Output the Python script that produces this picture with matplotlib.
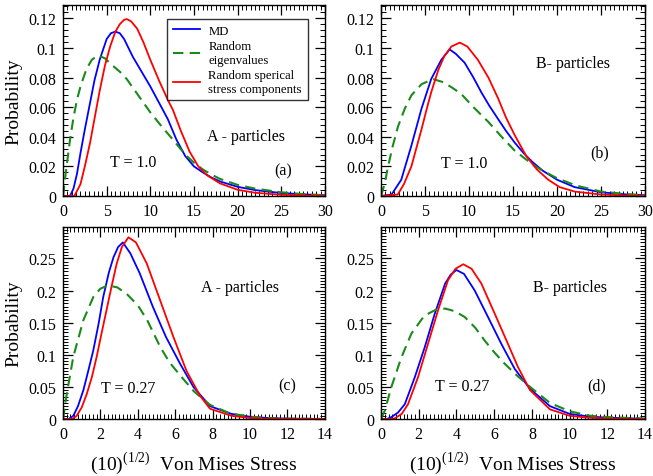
import matplotlib
matplotlib.use('Agg')
import matplotlib.pyplot as plt
from matplotlib.ticker import MultipleLocator

plt.rcParams['font.family'] = ['Liberation Serif', 'DejaVu Serif']
plt.rcParams['mathtext.fontset'] = 'custom'
plt.rcParams['mathtext.rm'] = 'Liberation Serif'

BLUE = '#0000ff'
GREEN = '#1a8a1a'
RED = '#ff0000'

# ---- (a) A particles, T = 1.0 ----
md_a_x = [0, 0.8, 1.2, 1.6, 2.0, 2.5, 3.1, 3.6, 4.2, 5.0, 5.5, 6.0, 6.5, 7.0, 8.0, 9.0, 10.0, 11.0,
          12.0, 13.0, 14.0, 15.0, 16.0, 17.0, 18.0, 20.0, 22.0, 25.0, 28.0, 30.0]
md_a_y = [0, 0, 0.005, 0.015, 0.029, 0.045, 0.063, 0.078, 0.092, 0.106, 0.110, 0.111, 0.110, 0.106,
          0.094, 0.084, 0.074, 0.063, 0.052, 0.038, 0.027, 0.020, 0.016, 0.0125, 0.0098, 0.0062,
          0.004, 0.002, 0.001, 0.0005]
eig_a_x = [0, 0.3, 0.8, 1.2, 1.6, 2.0, 2.7, 3.3, 4.0, 4.8, 5.5, 6.5, 7.3, 8.5, 10, 11.3, 12.6, 14,
           15, 16, 17, 18, 20, 22, 25, 28, 30]
eig_a_y = [0, 0.015, 0.038, 0.053, 0.065, 0.074, 0.086, 0.092, 0.095, 0.093, 0.089, 0.084, 0.079,
           0.069, 0.0565, 0.047, 0.038, 0.028, 0.0225, 0.018, 0.0145, 0.0115, 0.0075, 0.005, 0.0025,
           0.001, 0.0006]
sph_a_x = [0, 1.3, 2.0, 2.5, 3.1, 3.6, 4.2, 4.8, 5.4, 6.0, 6.5, 7.0, 7.3, 7.8, 8.5, 9.2, 10, 11, 12,
           12.6, 13.5, 14.5, 15.5, 16.5, 18, 20, 22, 25, 28, 30]
sph_a_y = [0, 0, 0.008, 0.020, 0.036, 0.052, 0.071, 0.088, 0.101, 0.111, 0.116, 0.119, 0.1195, 0.118,
           0.113, 0.104, 0.092, 0.078, 0.065, 0.058, 0.044, 0.030, 0.020, 0.014, 0.0085, 0.0042,
           0.0022, 0.0008, 0.0003, 0.0001]

# ---- (b) B particles, T = 1.0 ----
md_b_x = [0, 1.2, 2.3, 3.45, 4.6, 5.7, 6.85, 7.8, 8.5, 9.5, 10.5, 11.4, 12.3, 13.3, 14.2, 15.2, 16.2,
          17.2, 18.4, 20, 22, 25, 28, 30]
md_b_y = [0, 0.001, 0.011, 0.034, 0.059, 0.079, 0.092, 0.099, 0.096, 0.090, 0.080, 0.070, 0.061,
          0.052, 0.044, 0.036, 0.029, 0.023, 0.017, 0.011, 0.006, 0.0025, 0.001, 0.0005]
eig_b_x = [0, 0.4, 0.8, 1.3, 1.93, 2.7, 3.45, 4.6, 5.9, 7.0, 8.0, 9.1, 10.5, 12.2, 13.7, 15.2, 16.2,
           17.3, 18.4, 20, 22.2, 25, 28, 30]
eig_b_y = [0, 0.008, 0.020, 0.033, 0.047, 0.059, 0.068, 0.0755, 0.079, 0.077, 0.0735, 0.069, 0.060,
           0.050, 0.040, 0.0306, 0.026, 0.021, 0.017, 0.012, 0.007, 0.003, 0.0012, 0.0006]
sph_b_x = [0, 1.9, 2.6, 3.45, 4.0, 4.6, 5.2, 5.7, 6.5, 7.2, 8.0, 8.95, 9.8, 11.0, 12.2, 13.3, 14.2,
           15.2, 16.5, 17.7, 19, 20.3, 22, 25, 28, 30]
sph_b_y = [0, 0.001, 0.008, 0.020, 0.032, 0.045, 0.059, 0.070, 0.085, 0.0946, 0.101, 0.1036, 0.101,
           0.092, 0.080, 0.066, 0.053, 0.041, 0.027, 0.018, 0.011, 0.006, 0.003, 0.001, 0.0003, 0.0001]

# ---- (c) A particles, T = 0.27 ----
md_c_x = [0, 0.3, 0.55, 0.8, 1.09, 1.35, 1.62, 1.9, 2.15, 2.45, 2.7, 2.95, 3.2, 3.6, 4.1, 4.8, 5.5,
          6.26, 6.97, 7.86, 9, 10, 11, 12, 14]
md_c_y = [0, 0, 0.005, 0.02, 0.045, 0.075, 0.107, 0.148, 0.19, 0.228, 0.252, 0.268, 0.275, 0.258,
          0.227, 0.175, 0.128, 0.086, 0.050, 0.020, 0.008, 0.0035, 0.0015, 0.0005, 0.0001]
eig_c_x = [0, 0.2, 0.55, 1.09, 1.62, 2.0, 2.4, 2.9, 3.4, 4.0, 4.5, 5.2, 5.7, 6.26, 7.0, 7.86, 8.9, 10,
           11, 12, 14]
eig_c_y = [0, 0.039, 0.097, 0.154, 0.19, 0.203, 0.208, 0.205, 0.195, 0.177, 0.154, 0.112, 0.088,
           0.068, 0.043, 0.022, 0.009, 0.0035, 0.0015, 0.0006, 0.0001]
sph_c_x = [0, 0.5, 0.73, 1.0, 1.27, 1.55, 1.8, 2.05, 2.33, 2.6, 2.87, 3.15, 3.5, 3.9, 4.48, 5.19, 5.9,
           6.6, 7.33, 7.86, 9, 10, 11, 14]
sph_c_y = [0, 0, 0.005, 0.018, 0.039, 0.066, 0.097, 0.132, 0.17, 0.207, 0.242, 0.268, 0.283, 0.275,
           0.242, 0.185, 0.128, 0.075, 0.036, 0.016, 0.005, 0.0015, 0.0005, 0.0001]

# ---- (d) B particles, T = 0.27 ----
md_d_x = [0, 0.3, 0.55, 0.9, 1.26, 1.79, 2.32, 2.85, 3.4, 3.7, 4.0, 4.4, 4.97, 5.67, 6.38, 7.09, 7.9,
          8.96, 10, 11, 12, 14]
md_d_y = [0, 0, 0.003, 0.01, 0.023, 0.065, 0.112, 0.164, 0.211, 0.225, 0.232, 0.226, 0.2, 0.159,
          0.117, 0.078, 0.047, 0.020, 0.008, 0.004, 0.002, 0.0003]
eig_d_x = [0, 0.2, 0.55, 1.08, 1.61, 2.3, 2.9, 3.4, 3.9, 4.43, 5.0, 5.5, 6.0, 6.56, 7.2, 7.9, 8.96,
           10, 11.1, 12, 14]
eig_d_y = [0, 0.013, 0.05, 0.096, 0.133, 0.161, 0.170, 0.172, 0.168, 0.159, 0.142, 0.122, 0.104,
           0.086, 0.068, 0.050, 0.025, 0.012, 0.005, 0.003, 0.0005]
sph_d_x = [0, 0.5, 0.73, 1.1, 1.43, 1.96, 2.49, 3.02, 3.55, 3.95, 4.36, 4.8, 5.32, 6.03, 6.73, 7.26,
           7.9, 8.96, 10, 11, 12, 14]
sph_d_y = [0, 0, 0.001, 0.008, 0.023, 0.065, 0.117, 0.169, 0.216, 0.234, 0.241, 0.234, 0.211, 0.164,
           0.117, 0.081, 0.045, 0.015, 0.005, 0.002, 0.0008, 0.0001]

labels = ['MD', 'Random\neigenvalues', 'Random sperical\nstress components']


def panel(ax, md, eig, sph, xmax, xmaj, xmin, ymax, ymaj, ymin, yticks):
    ax.plot(md[0], md[1], '-', color=BLUE, lw=1.3, label=labels[0])
    ax.plot(eig[0], eig[1], '--', color=GREEN, lw=1.5, dashes=(5, 3), label=labels[1])
    ax.plot(sph[0], sph[1], '-', color=RED, lw=1.3, label=labels[2])
    ax.set_xlim(0, xmax)
    ax.set_ylim(0, ymax)
    ax.xaxis.set_major_locator(MultipleLocator(xmaj))
    ax.xaxis.set_minor_locator(MultipleLocator(xmin))
    ax.set_yticks(yticks)
    ax.set_yticklabels(['0' if v == 0 else ('%g' % v) for v in yticks])
    ax.yaxis.set_minor_locator(MultipleLocator(ymin))
    ax.tick_params(which='both', direction='in', top=True, right=True, labelsize=11.5)
    ax.tick_params(which='major', length=7, width=0.9, pad=5)
    ax.tick_params(which='minor', length=3.5, width=0.7)
    for s in ax.spines.values():
        s.set_linewidth(1.0)


fig = plt.figure(figsize=(6.53, 4.77), dpi=100)
ax_a = fig.add_axes([0.0965, 0.587, 0.401, 0.4004])
ax_b = fig.add_axes([0.5835, 0.587, 0.4043, 0.4004])
ax_c = fig.add_axes([0.0965, 0.1195, 0.401, 0.4025])
ax_d = fig.add_axes([0.5835, 0.1195, 0.4043, 0.4025])

top_ticks = [0, 0.02, 0.04, 0.06, 0.08, 0.1, 0.12]
bot_ticks = [0, 0.05, 0.1, 0.15, 0.2, 0.25]
panel(ax_a, (md_a_x, md_a_y), (eig_a_x, eig_a_y), (sph_a_x, sph_a_y), 30, 5, 0.5, 0.129, 0.02, 0.004, top_ticks)
panel(ax_b, (md_b_x, md_b_y), (eig_b_x, eig_b_y), (sph_b_x, sph_b_y), 30, 5, 0.5, 0.129, 0.02, 0.004, top_ticks)
panel(ax_c, (md_c_x, md_c_y), (eig_c_x, eig_c_y), (sph_c_x, sph_c_y), 14, 2, 0.2, 0.299, 0.05, 0.005, bot_ticks)
panel(ax_d, (md_d_x, md_d_y), (eig_d_x, eig_d_y), (sph_d_x, sph_d_y), 14, 2, 0.2, 0.299, 0.05, 0.005, bot_ticks)

leg = ax_a.legend(loc='upper left', bbox_to_anchor=(0.397, 0.927), borderaxespad=0, fontsize=9.2,
                  frameon=True, fancybox=False, edgecolor='black', handlelength=2.1,
                  handletextpad=0.7, labelspacing=0.25, borderpad=0.45)
leg.get_frame().set_linewidth(1.0)

ax_a.set_ylabel('Probability', fontsize=14, labelpad=4)
ax_c.set_ylabel('Probability', fontsize=14, labelpad=4)
xl = r'(10)$^{(1/2)}$  Von Mises Stress'
ax_c.set_xlabel(xl, fontsize=14, labelpad=5)
ax_d.set_xlabel(xl, fontsize=14, labelpad=5)

fs = 11.5
ax_a.text(21, 0.0405, 'A - particles', fontsize=fs, ha='center', va='center')
ax_a.text(8.0, 0.023, 'T = 1.0', fontsize=fs, ha='center', va='center')
ax_a.text(25.2, 0.0175, '(a)', fontsize=fs, ha='center', va='center')
ax_b.text(21.8, 0.090, 'B- particles', fontsize=fs, ha='center', va='center')
ax_b.text(9.5, 0.022, 'T = 1.0', fontsize=fs, ha='center', va='center')
ax_b.text(24.8, 0.0297, '(b)', fontsize=fs, ha='center', va='center')
ax_c.text(9.47, 0.206, 'A - particles', fontsize=fs, ha='center', va='center')
ax_c.text(3.47, 0.048, 'T = 0.27', fontsize=fs, ha='center', va='center')
ax_c.text(12.0, 0.052, '(c)', fontsize=fs, ha='center', va='center')
ax_d.text(10.0, 0.206, 'B- particles', fontsize=fs, ha='center', va='center')
ax_d.text(4.3, 0.052, 'T = 0.27', fontsize=fs, ha='center', va='center')
ax_d.text(11.45, 0.052, '(d)', fontsize=fs, ha='center', va='center')

fig.savefig('out.png', dpi=100)
